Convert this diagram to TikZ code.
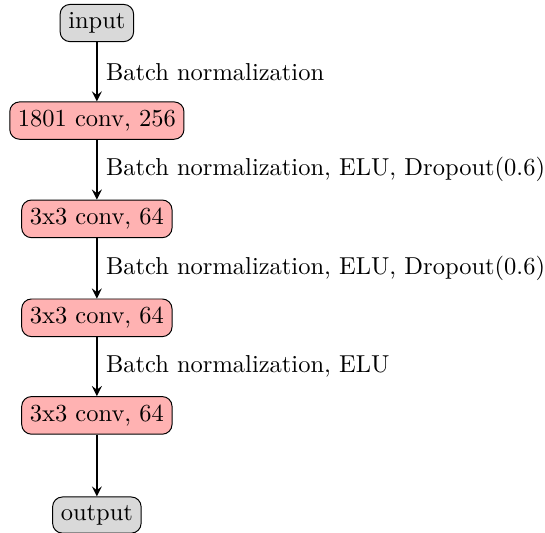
\documentclass[tikz,border=0pt]{standalone}
\usepackage{tikz}
\usetikzlibrary{arrows.meta,positioning}

\begin{document}
\begin{tikzpicture}[
        layer/.style={draw, rectangle, rounded corners, align=center, fill=red!30},
        io/.style={draw, rectangle, rounded corners, align=center, fill=gray!30},
        arrow/.style={->, thick, >=stealth}
    ]
        \useasboundingbox (0,0) rectangle (7.82,-7.64);
        % Nodes
        \node[io] (input) at (1.39, -0.33) {input};
        \node[layer] (conv1) at (1.39, -1.73) {1801 conv, 256};
        \node[layer] (conv2) at (1.39, -3.14) {3x3 conv, 64};
        \node[layer] (conv3) at (1.39, -4.56) {3x3 conv, 64};
        \node[layer] (conv4) at (1.39, -5.96) {3x3 conv, 64};
        \node[io] (output) at (1.39, -7.39) {output};

        % Arrows
        \draw[arrow] (input) -- node[right] {Batch normalization} (conv1);
        \draw[arrow] (conv1) -- node[right] {Batch normalization, ELU, Dropout(0.6)} (conv2);
        \draw[arrow] (conv2) -- node[right] {Batch normalization, ELU, Dropout(0.6)} (conv3);
        \draw[arrow] (conv3) -- node[right] {Batch normalization, ELU} (conv4);
        \draw[arrow] (conv4) -- (output);
    \end{tikzpicture}
\end{document}
